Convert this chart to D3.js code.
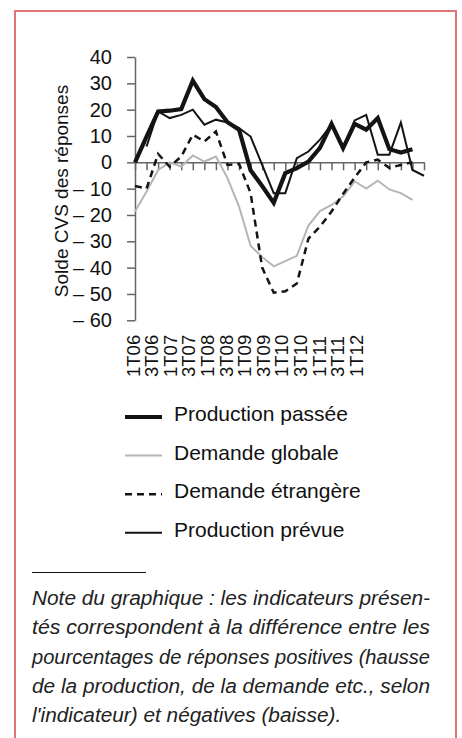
<!DOCTYPE html>
<html>
<head>
<meta charset="utf-8">
<script src="https://cdn.jsdelivr.net/npm/d3@7"></script>
<style>
  body { margin: 0; background: #fff; }
  svg { display: block; font-family: "Liberation Sans", Arial, sans-serif; }
</style>
</head>
<body>
<div class="chart"></div>
<script>
// Soldes d'opinion CVS, trimestriels 1T06 - 2T12

// categories (one per quarter) and the labels shown under the axis
var quarters = ["1T06","2T06","3T06","4T06","1T07","2T07","3T07","4T07","1T08","2T08","3T08","4T08",
  "1T09","2T09","3T09","4T09","1T10","2T10","3T10","4T10","1T11","2T11","3T11","4T11","1T12","2T12"];
var xLabels = ["1T06","3T06","1T07","3T07","1T08","3T08","1T09","3T09","1T10","3T10","1T11","3T11","1T12"];
var yTicks = [-60, -50, -40, -30, -20, -10, 0, 10, 20, 30, 40];

// series values (null = no point)
var productionPassee = [0, 9.8, 19.3, 19.6, 20.2, 31, 24, 21, 15.2, 12.4, -3, -9, -15.4, -4.1, -2.2, 0.3,
  5.5, 14.6, 5.4, 14.6, 12.4, 16.8, 5, 3.7, 5, null];
var demandeGlobale = [-18.7, -11.1, -2.9, 0, -1.6, 2.6, 0.3, 2.2, -6, -16.8, -31.7, -36, -39.5, -37.5, -35.5, -24,
  -18.5, -16.2, -13, -7.2, -10, -7, -10.3, -11.7, -14.3, null];
var demandeEtrangere = [-9, -10, 3.2, -1.7, 2.2, 10.5, 7.9, 11.7, -1, -0.6, -11.7, -40, -49.5, -49, -46, -29,
  -24.4, -18.7, -12, -5.8, 0, 1, -2.1, -1, 0, null];
var productionPrevue = [null, 6, 19.3, 16.8, 18, 20, 14.3, 16.2, 15.1, 13, 9.8, -1, -11.7, -11.7, 1.6, 4.1,
  8.6, 14.3, 5.4, 15.9, 18, 2.9, 2.9, 15.1, -2.9, -5.1];

var seriesNames = ["Production passée", "Demande globale", "Demande étrangère", "Production prévue"];
var seriesValues = [productionPassee, demandeGlobale, demandeEtrangere, productionPrevue];
var seriesStyles = [
  {stroke: "#141414", width: 4.2, dash: null},
  {stroke: "#b5b5b5", width: 2, dash: null},
  {stroke: "#141414", width: 2.5, dash: "7,5"},
  {stroke: "#141414", width: 2, dash: null}
];

var noteLines = [
  "Note du graphique : les indicateurs présen-",
  "tés correspondent à la différence entre les",
  "pourcentages de réponses positives (hausse",
  "de la production, de la demande etc., selon",
  "l'indicateur) et négatives (baisse)."
];

var svgWidth = 462, svgHeight = 738;
var svg = d3.select(".chart").append("svg").attr("width", svgWidth).attr("height", svgHeight);

// frame
svg.append("rect").attr("x", 15).attr("y", 11).attr("width", 441).attr("height", 760)
  .attr("fill", "none").attr("stroke", "#e07474").attr("stroke-width", 2);

// scales
var x = d3.scalePoint().domain(quarters).range([135, 424]);
var y = d3.scaleLinear().domain([-60, 40]).range([320.3, 57]);
var xLab = d3.scalePoint().domain(xLabels).range([133, 356]);

// y axis
var fmt = function(d) { return d < 0 ? "\u2013 " + Math.abs(d) : d; };
var yAxis = svg.append("g").attr("transform", "translate(135,0)")
  .call(d3.axisLeft(y).tickValues(yTicks).tickSize(8).tickSizeOuter(0).tickPadding(15).tickFormat(fmt));
yAxis.selectAll("text").attr("font-size", 20).attr("fill", "#111").attr("font-family", null);
yAxis.selectAll("line, path").attr("stroke", "#666").attr("stroke-width", 1.5);

// x axis along zero
var xAxis = svg.append("g").attr("transform", "translate(0," + y(0) + ")")
  .call(d3.axisBottom(x).tickSize(8).tickSizeOuter(0).tickFormat(""));
xAxis.selectAll("line, path").attr("stroke", "#666").attr("stroke-width", 1.5);

// category labels, rotated
svg.append("g").selectAll("text").data(xLabels).enter().append("text")
  .attr("transform", function(d) { return "translate(" + xLab(d) + ",377) rotate(-90)"; })
  .attr("dy", "0.36em").attr("font-size", 18.5).attr("fill", "#111").text(function(d) { return d; });

// axis title
svg.append("text").attr("transform", "translate(61,191) rotate(-90)")
  .attr("text-anchor", "middle").attr("dy", "0.35em").attr("font-size", 19).attr("fill", "#111")
  .text("Solde CVS des réponses");

// lines
var line = d3.line()
  .defined(function(d) { return d != null; })
  .x(function(d, i) { return x(quarters[i]); })
  .y(function(d) { return y(d); });

var order = [1, 2, 3, 0];
order.forEach(function(k) {
  svg.append("path").datum(seriesValues[k])
    .attr("d", line).attr("fill", "none")
    .attr("stroke", seriesStyles[k].stroke).attr("stroke-width", seriesStyles[k].width)
    .attr("stroke-dasharray", seriesStyles[k].dash).attr("stroke-linejoin", "miter");
});

// legend
var legend = svg.append("g").selectAll("g").data(seriesNames).enter().append("g")
  .attr("transform", function(d, i) { return "translate(0," + (421 + i * 38.6) + ")"; });
legend.append("line").attr("x1", 125).attr("x2", 162).attr("y1", -4).attr("y2", -4)
  .attr("stroke", function(d, i) { return seriesStyles[i].stroke; })
  .attr("stroke-width", function(d, i) { return seriesStyles[i].width; })
  .attr("stroke-dasharray", function(d, i) { return seriesStyles[i].dash; });
legend.append("text").attr("x", 174).attr("font-size", 21).attr("fill", "#111").text(function(d) { return d; });

// note
svg.append("line").attr("x1", 32).attr("x2", 146).attr("y1", 572.5).attr("y2", 572.5)
  .attr("stroke", "#111").attr("stroke-width", 1);
var note = svg.append("g").selectAll("text").data(noteLines).enter().append("text")
  .attr("x", 32).attr("y", function(d, i) { return 605 + i * 29.3; })
  .attr("font-size", 20).attr("font-style", "italic").attr("fill", "#222")
  .text(function(d) { return d; });
// widen glyphs a little, as in the source; the first four lines are justified
note.each(function(d, i) {
  var w = this.getComputedTextLength();
  d3.select(this).attr("textLength", i < 4 ? 398 : w * 1.04).attr("lengthAdjust", "spacingAndGlyphs");
});
</script>
</body>
</html>
